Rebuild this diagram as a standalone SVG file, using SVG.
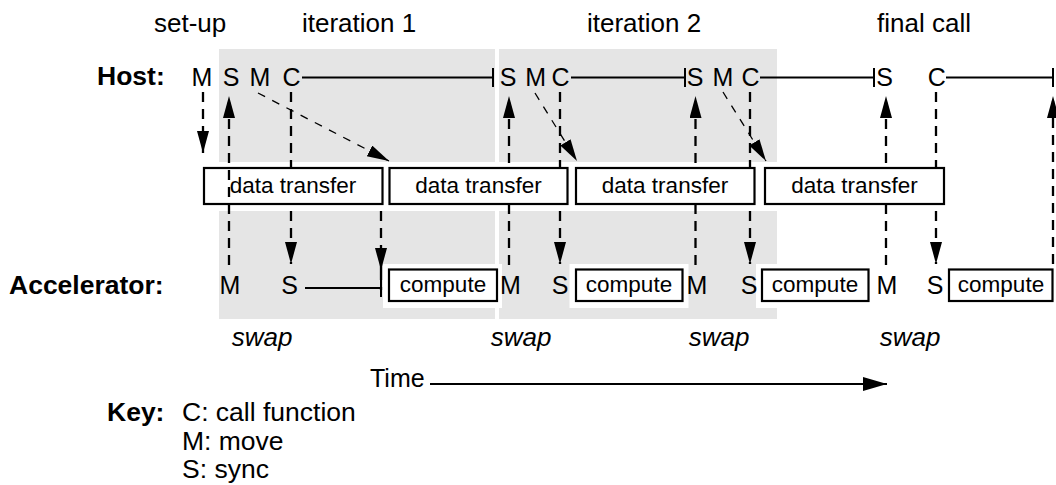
<svg xmlns="http://www.w3.org/2000/svg" width="1056" height="485" viewBox="0 0 1056 485">
<defs>
<marker id="ah" markerUnits="userSpaceOnUse" markerWidth="24" markerHeight="14" refX="22" refY="6" orient="auto">
<path d="M0,0 L22,6 L0,12 z" fill="#000"/>
</marker>
<marker id="ahs" markerUnits="userSpaceOnUse" markerWidth="26" markerHeight="16" refX="24" refY="7" orient="auto">
<path d="M0,0 L24,7 L0,14 z" fill="#000"/>
</marker>
</defs>
<style>
text{font-family:"Liberation Sans",Arial,Helvetica,sans-serif;fill:#000}
.t{font-size:26px}
.k{font-size:26.5px}
.l{font-size:25px}
.b{font-size:26.5px;font-weight:bold}
.s{font-size:22.5px}
.i{font-size:26px;font-style:italic}
.gray{fill:#e5e5e5}
.box{fill:#fff;stroke:#000;stroke-width:2.2}
.wbg{fill:#fff}
.solid{stroke:#000;stroke-width:2;fill:none}
.vd{stroke:#000;stroke-width:2.3;stroke-dasharray:10 7;fill:none;marker-end:url(#ah)}
.vdn{stroke:#000;stroke-width:2.3;stroke-dasharray:10 7;fill:none}
.dd{stroke:#000;stroke-width:1.3;stroke-dasharray:8 8;fill:none;marker-end:url(#ah)}
</style>

<g id="background">
<rect class="gray" x="219" y="49" width="276" height="113"/>
<rect class="gray" x="219" y="211" width="276" height="108"/>
<rect class="gray" x="499" y="49" width="278" height="113"/>
<rect class="gray" x="499" y="211" width="278" height="108"/>
</g>

<g id="phase-labels">
<text class="t" x="154" y="32">set-up</text>
<text class="t" x="302" y="32">iteration 1</text>
<text class="t" x="587" y="32">iteration 2</text>
<text class="t" x="877" y="32">final call</text>
</g>

<g id="lane-labels">
<text class="b" x="97" y="85">Host:</text>
<text class="b" x="9" y="294">Accelerator:</text>
</g>

<g id="connectors">
<line class="vd" x1="291" y1="92" x2="291" y2="264"/>
<line class="vd" x1="560" y1="92" x2="560" y2="264"/>
<line class="vd" x1="750" y1="92" x2="750" y2="264"/>
<line class="vd" x1="936" y1="92" x2="936" y2="264"/>
<line class="vd" x1="509" y1="265" x2="509" y2="96"/>
<line class="vd" x1="695.5" y1="265" x2="695.5" y2="96"/>
<line class="vd" x1="886" y1="265" x2="886" y2="96"/>
<line class="vd" x1="1053" y1="264" x2="1053" y2="96"/>
<line class="vd" x1="203" y1="92" x2="203" y2="153"/>
<line class="vd" x1="381" y1="211" x2="381" y2="270"/>
<line class="vdn" x1="381" y1="270" x2="381" y2="290"/>
<line class="dd" x1="258" y1="93" x2="389" y2="161"/>
<line class="dd" x1="535" y1="93" x2="577" y2="161"/>
<line class="dd" x1="723" y1="92" x2="766" y2="161"/>
<line class="solid" x1="302" y1="77.5" x2="493" y2="77.5"/>
<line class="solid" x1="493" y1="68" x2="493" y2="87"/>
<line class="solid" x1="571" y1="77.5" x2="685" y2="77.5"/>
<line class="solid" x1="685" y1="68" x2="685" y2="87"/>
<line class="solid" x1="760" y1="77.5" x2="874" y2="77.5"/>
<line class="solid" x1="874" y1="68" x2="874" y2="87"/>
<line class="solid" x1="946" y1="77.5" x2="1053" y2="77.5"/>
<line class="solid" x1="1053" y1="68" x2="1053" y2="87"/>
<line class="solid" x1="305" y1="288" x2="381" y2="288"/>
<line class="solid" x1="381" y1="279" x2="381" y2="297"/>
<line class="solid" x1="430" y1="384" x2="887" y2="384" style="marker-end:url(#ahs)"/>
</g>

<g id="transfer-boxes">
<g id="dt1"><rect class="box" x="204" y="168" width="178.5" height="36"/><text class="s" x="293" y="193" text-anchor="middle">data transfer</text></g>
<g id="dt2"><rect class="box" x="389.5" y="168" width="178" height="36"/><text class="s" x="478.5" y="193" text-anchor="middle">data transfer</text></g>
<g id="dt3"><rect class="box" x="576" y="168" width="178.5" height="36"/><text class="s" x="665" y="193" text-anchor="middle">data transfer</text></g>
<g id="dt4"><rect class="box" x="765" y="168" width="179" height="36"/><text class="s" x="854.5" y="193" text-anchor="middle">data transfer</text></g>
</g>

<g id="connectors-front">
<line class="vd" x1="229" y1="265" x2="229" y2="96"/>
</g>

<g id="compute-boxes">
<g id="c1"><rect class="wbg" x="383" y="264" width="119" height="44"/><rect class="box" x="389" y="269.5" width="108" height="31.5"/><text class="s" x="443" y="292" text-anchor="middle">compute</text></g>
<g id="c2"><rect class="wbg" x="569.5" y="264" width="119" height="44"/><rect class="box" x="576" y="269.5" width="106.5" height="31.5"/><text class="s" x="629" y="292" text-anchor="middle">compute</text></g>
<g id="c3"><rect class="wbg" x="756" y="264" width="119" height="44"/><rect class="box" x="762" y="269.5" width="106.5" height="31.5"/><text class="s" x="815" y="292" text-anchor="middle">compute</text></g>
<g id="c4"><rect class="box" x="949" y="269.5" width="103.5" height="31.5"/><text class="s" x="1001" y="292" text-anchor="middle">compute</text></g>
</g>

<g id="host-events">
<text class="l" x="202" y="86" text-anchor="middle">M</text>
<text class="l" x="231" y="86" text-anchor="middle">S</text>
<text class="l" x="260" y="86" text-anchor="middle">M</text>
<text class="l" x="291.5" y="86" text-anchor="middle">C</text>
<text class="l" x="508" y="86" text-anchor="middle">S</text>
<text class="l" x="535.7" y="86" text-anchor="middle">M</text>
<text class="l" x="560.5" y="86" text-anchor="middle">C</text>
<text class="l" x="695" y="86" text-anchor="middle">S</text>
<text class="l" x="723" y="86" text-anchor="middle">M</text>
<text class="l" x="750.5" y="86" text-anchor="middle">C</text>
<text class="l" x="884.7" y="86" text-anchor="middle">S</text>
<text class="l" x="936.7" y="86" text-anchor="middle">C</text>
</g>

<g id="accelerator-events">
<text class="l" x="230" y="294" text-anchor="middle">M</text>
<text class="l" x="289.5" y="294" text-anchor="middle">S</text>
<text class="l" x="510.5" y="294" text-anchor="middle">M</text>
<text class="l" x="560" y="294" text-anchor="middle">S</text>
<text class="l" x="697" y="294" text-anchor="middle">M</text>
<text class="l" x="749" y="294" text-anchor="middle">S</text>
<text class="l" x="887" y="294" text-anchor="middle">M</text>
<text class="l" x="935" y="294" text-anchor="middle">S</text>
</g>

<g id="swap-labels">
<text class="i" x="262" y="346" text-anchor="middle">swap</text>
<text class="i" x="521" y="346" text-anchor="middle">swap</text>
<text class="i" x="719" y="346" text-anchor="middle">swap</text>
<text class="i" x="910" y="346" text-anchor="middle">swap</text>
</g>

<g id="time-label">
<text class="l" x="370" y="387">Time</text>
</g>

<g id="key">
<text class="b" x="107" y="421">Key:</text>
<text class="k" x="182" y="421">C: call function</text>
<text class="k" x="182" y="450">M: move</text>
<text class="k" x="182" y="478">S: sync</text>
</g>
</svg>
